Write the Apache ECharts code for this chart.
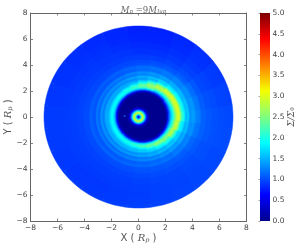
<!DOCTYPE html>
<html><head><meta charset="utf-8">
<style>html,body{margin:0;padding:0;background:#fff}#c{width:300px;height:248px;filter:blur(0.45px)}</style>
<script src="https://cdn.jsdelivr.net/npm/echarts@6/dist/echarts.min.js"></script>
</head><body><div id="c"></div>
<script>
const jetColors=['#00008f','#0000ff','#007fff','#00ffff','#7fff7f','#f5ff00','#ff7f00','#ff0000','#7f0000'];
// central ring around the primary: outer edge radius, surface density
const innerEdges=[0.08,0.14,0.2,0.26,0.32,0.38,0.44,0.5,0.56,0.62,0.7,0.8];
const innerValues=[0.8,1.3,1.9,2.6,2.9,2.7,2.2,1.6,1.1,0.7,0.35,0.12];
// faint companion spot
const companion=[[-1.03,0.07]];
// table rows: one per azimuth (deg CCW from +X); columns follow radii
const azimuths=[0,15,30,45,60,75,90,105,120,135,150,165,180,195,210,225,240,255,270,285,300,315,330,345];
const radii=[1.6,1.7,1.8,1.9,2.0,2.1,2.2,2.3,2.4,2.5,2.6,2.7,2.8,2.9,3.0,3.1,3.2,3.3,3.4,3.5,3.6,3.8,4.0,4.2,4.5,5,5.5,6,6.5,7];
// centre of each radius ring: the gap sits off-centre, the outer rim does not
const ringCentreX=[.3,.3,.3,.3,.3,.3,.3,.3,.3,.3,.3,.3,.3,.3,.3,.3,.3,.3,.3,.3,.29,.28,.26,.25,.22,.17,.13,.09,.04,0];
const ringCentreY=[.05,.05,.05,.05,.05,.05,.05,.05,.05,.05,.05,.05,.05,.05,.05,.05,.05,.05,.05,.05,.05,.05,.04,.04,.04,.03,.02,.01,.01,0];
// narrow density rings superposed on the table
const ringRipple=[0,0,0,0,0,0,0,0,0,0,0,.08,-.04,-.08,.09,.03,-.08,.05,.08,-.06,-.03,.05,-.03,-.02,-.05,-.07,-.08,-.09,-.09,-.09];
const sigma=[
[0,.02,.3,.9,1.3,1.6,1.9,2.2,2.5,2.8,2.95,2.85,2.6,2.25,1.95,1.75,1.6,1.55,1.5,1.4,1.4,1.35,1.3,1.25,1.15,1.12,1.1,1.08,1.07,1.06],
[0,.02,.25,.8,1.25,1.6,1.9,2.25,2.6,2.85,3.0,2.85,2.5,2.15,1.85,1.7,1.6,1.55,1.45,1.4,1.38,1.32,1.27,1.22,1.13,1.09,1.07,1.05,1.04,1.02],
[0,.01,.2,.7,1.2,1.6,1.95,2.3,2.65,2.9,2.95,2.8,2.4,2.05,1.8,1.65,1.6,1.5,1.42,1.38,1.35,1.28,1.22,1.17,1.1,1.05,1.03,1.01,1.0,.98],
[0,.01,.1,.4,1.0,1.5,1.9,2.3,2.65,2.9,2.9,2.65,2.25,1.95,1.7,1.6,1.55,1.45,1.38,1.32,1.3,1.22,1.16,1.1,1.05,1.01,.98,.96,.95,.94],
[0,.01,.08,.4,1.0,1.55,2.0,2.4,2.7,2.8,2.65,2.35,2.0,1.75,1.6,1.55,1.45,1.38,1.32,1.28,1.25,1.18,1.12,1.06,1.01,.97,.94,.92,.91,.9],
[0,.01,.08,.4,1.1,1.8,2.3,2.55,2.6,2.5,2.25,1.95,1.7,1.55,1.5,1.45,1.38,1.32,1.28,1.25,1.2,1.14,1.08,1.03,.98,.94,.91,.89,.88,.87],
[0,.01,.1,.4,1.05,1.7,2.15,2.35,2.35,2.15,1.85,1.6,1.48,1.45,1.42,1.38,1.32,1.28,1.24,1.2,1.17,1.1,1.05,1.0,.97,.93,.91,.89,.88,.87],
[0,.02,.1,.45,1.1,1.7,2.05,2.15,2.05,1.8,1.55,1.42,1.4,1.4,1.35,1.3,1.27,1.23,1.2,1.16,1.13,1.07,1.03,1,.97,.95,.93,.91,.9,.9],
[0,.02,.15,.5,1.15,1.7,1.95,2.0,1.85,1.6,1.45,1.4,1.4,1.36,1.3,1.26,1.24,1.2,1.16,1.13,1.1,1.05,1.02,.99,.97,.96,.95,.94,.92,.92],
[0,.03,.15,.55,1.2,1.7,1.9,1.9,1.75,1.52,1.42,1.4,1.38,1.32,1.27,1.25,1.22,1.17,1.14,1.11,1.08,1.04,1.01,.99,.98,.97,.96,.95,.94,.94],
[.01,.03,.2,.6,1.25,1.7,1.85,1.85,1.7,1.5,1.42,1.4,1.35,1.3,1.27,1.24,1.2,1.15,1.13,1.1,1.08,1.04,1.01,1,.99,.98,.97,.96,.96,.96],
[.01,.04,.2,.65,1.3,1.7,1.85,1.82,1.68,1.5,1.42,1.4,1.35,1.3,1.27,1.22,1.18,1.15,1.12,1.1,1.08,1.04,1.02,1,1,.99,.98,.98,.98,.98],
[.01,.04,.2,.65,1.3,1.7,1.85,1.82,1.68,1.5,1.45,1.42,1.35,1.3,1.28,1.22,1.18,1.15,1.12,1.1,1.08,1.05,1.02,1.01,1,1,1,1,1,1],
[.01,.04,.2,.65,1.3,1.7,1.85,1.85,1.7,1.55,1.45,1.42,1.36,1.3,1.28,1.24,1.18,1.15,1.13,1.1,1.08,1.05,1.03,1.01,1,1,1,1,1,1],
[.01,.04,.2,.6,1.25,1.7,1.88,1.88,1.72,1.56,1.46,1.42,1.38,1.32,1.28,1.24,1.2,1.16,1.13,1.11,1.09,1.05,1.03,1.01,1,1,1,.99,.99,1],
[.01,.03,.15,.55,1.2,1.7,1.9,1.9,1.76,1.6,1.48,1.44,1.4,1.34,1.3,1.25,1.2,1.17,1.15,1.12,1.1,1.06,1.03,1.01,1,1,.99,.98,.98,1],
[0,.03,.15,.5,1.15,1.7,1.95,1.95,1.8,1.62,1.5,1.46,1.42,1.36,1.32,1.27,1.22,1.18,1.16,1.13,1.1,1.07,1.04,1.02,1,1,.99,.98,.99,1],
[0,.02,.12,.45,1.1,1.75,2.05,2.05,1.85,1.66,1.54,1.5,1.45,1.38,1.34,1.29,1.24,1.2,1.18,1.15,1.12,1.08,1.05,1.03,1.01,1,1,1,1,1.02],
[0,.02,.1,.4,1.05,1.75,2.15,2.2,2.0,1.75,1.6,1.54,1.48,1.42,1.37,1.32,1.27,1.23,1.2,1.17,1.14,1.1,1.07,1.05,1.03,1.01,1.01,1.01,1.02,1.03],
[0,.02,.1,.4,1.05,1.8,2.25,2.35,2.2,1.9,1.7,1.6,1.53,1.47,1.41,1.36,1.3,1.26,1.22,1.19,1.16,1.12,1.08,1.06,1.04,1.03,1.02,1.03,1.03,1.04],
[0,.02,.1,.4,1.1,1.85,2.35,2.55,2.45,2.15,1.85,1.7,1.6,1.53,1.47,1.41,1.35,1.3,1.26,1.22,1.19,1.14,1.1,1.08,1.06,1.04,1.04,1.04,1.05,1.05],
[0,.02,.15,.55,1.2,1.8,2.25,2.5,2.5,2.3,2.05,1.85,1.7,1.6,1.53,1.47,1.42,1.36,1.31,1.27,1.24,1.18,1.13,1.1,1.08,1.06,1.06,1.06,1.06,1.06],
[0,.02,.2,.7,1.3,1.8,2.2,2.55,2.75,2.7,2.4,2.1,1.85,1.7,1.6,1.52,1.47,1.42,1.38,1.32,1.28,1.22,1.17,1.14,1.11,1.09,1.08,1.07,1.07,1.07],
[0,.02,.25,.85,1.3,1.7,2.0,2.35,2.65,2.85,2.85,2.5,2.2,1.9,1.72,1.62,1.55,1.5,1.45,1.38,1.35,1.3,1.25,1.2,1.15,1.12,1.1,1.09,1.08,1.08]
];

// painted from the rim inward: each cell is a full wedge [cx, cy, outer radius, a0, a1, value]
const cells=[];
for(let i=radii.length-1;i>=0;i--){
  const hi=i<radii.length-1?(radii[i+1]+radii[i])/2:radii[i];
  azimuths.forEach((az,a)=>cells.push([ringCentreX[i],ringCentreY[i],hi,az-7.5,az+7.5,sigma[a][i]+ringRipple[i]]));
}
for(let i=innerEdges.length-1;i>=0;i--)cells.push([0,0.0,innerEdges[i],0,360,innerValues[i]]);

function renderCell(params,api){
  const cx=api.value(0),cy=api.value(1),hi=api.value(2),a0=api.value(3),a1=api.value(4);
  const n=Math.max(3,Math.round((a1-a0)/2.5));
  const pts=[];
  for(let k=0;k<=n;k++){const t=(a0+(a1-a0)*k/n)*Math.PI/180;pts.push(api.coord([cx+hi*Math.cos(t),cy+hi*Math.sin(t)]));}
  if(a1-a0<360)pts.push(api.coord([cx,cy]));
  const c=api.visual('color');
  return {type:'polygon',shape:{points:pts},style:{fill:c,stroke:c,lineWidth:0.5}};
}
function renderBar(params,api){
  const a=api.coord([0,0]),b=api.coord([1,5]);
  return {type:'rect',shape:{x:a[0],y:b[1],width:b[0]-a[0],height:a[1]-b[1]},
    style:{fill:new echarts.graphic.LinearGradient(0,1,0,0,jetColors.map((c,i)=>({offset:i/(jetColors.length-1),color:c})))}};
}
const ink='#555',line={lineStyle:{color:'#666',width:1}};
const fmt=v=>String(v).replace('-','\u2212');
const sq=(pos,labels,extra)=>Object.assign({type:'value',gridIndex:0,min:-8,max:8,interval:2,position:pos,
  axisLine:Object.assign({show:true,onZero:false},line),
  axisTick:{show:true,inside:true,length:2.5,lineStyle:{color:'#666',width:0.8}},
  splitLine:{show:false},
  axisLabel:{show:labels,fontFamily:'DejaVu Sans',fontSize:7.5,color:'#444',margin:3,formatter:fmt,hideOverlap:false}},extra||{});
const nameRich={a:{fontFamily:'DejaVu Sans',fontSize:10,color:ink},b:{fontFamily:'DejaVu Serif',fontStyle:'italic',fontSize:10,color:ink},c:{fontFamily:'DejaVu Serif',fontStyle:'italic',fontSize:6.5,color:ink,padding:[4,0,0,0]}};
const chart=echarts.init(document.getElementById('c'),null,{renderer:'canvas'});
chart.setOption({
  animation:false,
  title:{text:'{i|M}{s|p}{n| =9}{i|M}{s|Jup}',left:138.5,top:1,textAlign:'center',
    textStyle:{fontWeight:'normal',rich:{
      i:{fontFamily:'DejaVu Serif',fontStyle:'italic',fontWeight:'normal',fontSize:8.5,color:'#666'},
      n:{fontFamily:'DejaVu Serif',fontWeight:'normal',fontSize:8.5,color:'#666'},
      s:{fontFamily:'DejaVu Serif',fontStyle:'italic',fontWeight:'normal',fontSize:5.5,color:'#666',padding:[3,0,0,0]}}}},
  grid:[{left:30.5,top:13,width:216,height:208,outerBoundsMode:'none',containLabel:false},{left:260,top:13,width:10,height:208,outerBoundsMode:'none',containLabel:false}],
  xAxis:[
    sq('bottom',true,{name:'{a|X ( }{b|R}{c|p}{a| )}',nameLocation:'middle',nameGap:11.5,nameMoveOverlap:false,nameTextStyle:{rich:nameRich}}),
    sq('top',false),
    {type:'value',gridIndex:1,min:0,max:1,show:false}
  ],
  yAxis:[
    sq('left',true,{name:'{a|Y ( }{b|R}{c|p}{a| )}',nameLocation:'middle',nameGap:17,nameMoveOverlap:false,nameTextStyle:{rich:nameRich}}),
    sq('right',false),
    {type:'value',gridIndex:1,min:0,max:5,interval:0.5,position:'right',
      axisLine:{show:true,lineStyle:{color:'#666',width:0.8}},
      axisTick:{show:true,inside:true,length:1.5,lineStyle:{color:'#666',width:0.6}},
      splitLine:{show:false},
      axisLabel:{fontFamily:'DejaVu Sans',fontSize:7.5,color:'#444',margin:2.5,formatter:v=>v.toFixed(1)},
      name:'{a|\u03A3/\u03A3}{c|0}',nameLocation:'middle',nameGap:17,nameRotate:90,nameMoveOverlap:false,
      nameTextStyle:{rich:{a:{fontFamily:'DejaVu Serif',fontStyle:'italic',fontSize:9,color:ink},c:{fontFamily:'DejaVu Serif',fontSize:5.5,color:ink,padding:[3,0,0,0]}}}}
  ],
  visualMap:{show:false,type:'continuous',seriesIndex:0,dimension:5,min:0,max:5,inRange:{color:jetColors}},
  series:[
    {type:'custom',xAxisIndex:0,yAxisIndex:0,renderItem:renderCell,data:cells,silent:true,progressive:0,encode:{x:[],y:[]}},
    {type:'scatter',xAxisIndex:0,yAxisIndex:0,data:companion,symbolSize:2,itemStyle:{color:'#1060ff'},silent:true},
    {type:'custom',xAxisIndex:2,yAxisIndex:2,renderItem:renderBar,data:[[0,0]],silent:true}
  ]
});
</script></body></html>
